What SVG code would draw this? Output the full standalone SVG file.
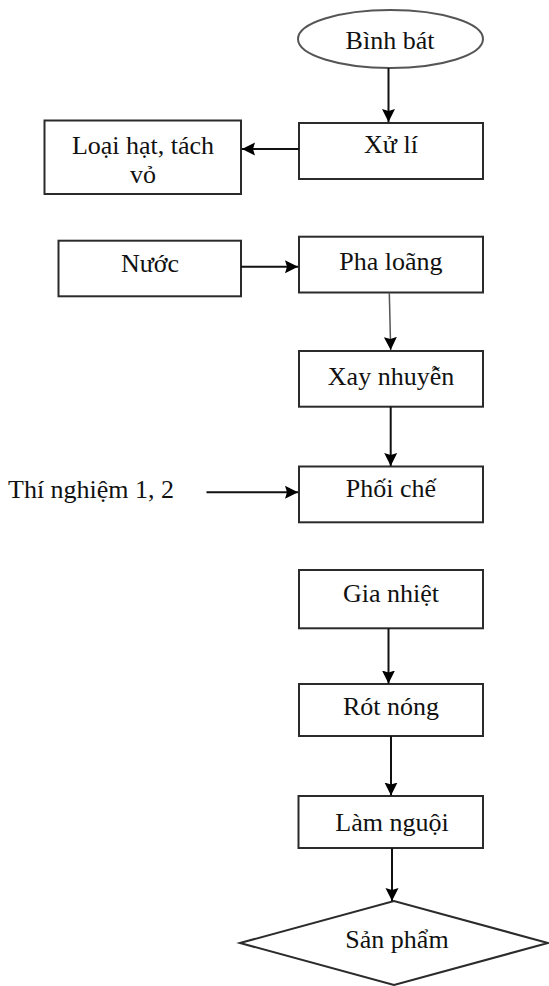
<svg xmlns="http://www.w3.org/2000/svg" width="549" height="986" viewBox="0 0 549 986">
<style>
.box{fill:#fff;stroke:#2b2b2b;stroke-width:2}
.oval{fill:#fff;stroke:#555;stroke-width:2}
.lbl{font-family:"Liberation Serif","Times New Roman",serif;font-size:26px;fill:#111;text-anchor:middle}
.lft{font-family:"Liberation Serif","Times New Roman",serif;font-size:26px;fill:#111}
.con{fill:none;stroke:#111;stroke-width:2}
.thin{fill:none;stroke:#555;stroke-width:1.5}
</style>
<defs>
<marker id="ah" markerUnits="userSpaceOnUse" markerWidth="15" markerHeight="15" refX="13" refY="7" orient="auto">
<path d="M0,0.5 L13,7 L0,13.5 L2,7 Z" fill="#000"/>
</marker>
</defs>
<g id="n-binhbat"><ellipse class="oval" cx="390.5" cy="39" rx="92.5" ry="29"/><text class="lbl" x="390" y="49">Bình bát</text></g>
<g id="n-xuli"><rect class="box" x="299" y="123" width="184" height="56"/><text class="lbl" x="391" y="153">Xử lí</text></g>
<g id="n-loaihat"><rect class="box" x="44.5" y="120.5" width="196.5" height="73.5"/><text class="lbl" x="143" y="154">Loại hạt, tách</text><text class="lbl" x="143" y="183">vỏ</text></g>
<g id="n-nuoc"><rect class="box" x="58.5" y="240.7" width="182.5" height="55.6"/><text class="lbl" x="150" y="271.7">Nước</text></g>
<g id="n-phaloang"><rect class="box" x="299" y="236.7" width="184" height="55.8"/><text class="lbl" x="391" y="270">Pha loãng</text></g>
<g id="n-xaynhuyen"><rect class="box" x="299" y="351" width="184" height="55.7"/><text class="lbl" x="391" y="385">Xay nhuyễn</text></g>
<g id="n-thinghiem"><text class="lft" x="8" y="498">Thí nghiệm 1, 2</text></g>
<g id="n-phoiche"><rect class="box" x="299" y="466.5" width="184" height="55.8"/><text class="lbl" x="391" y="497">Phối chế</text></g>
<g id="n-gianhiet"><rect class="box" x="299" y="570" width="184" height="58.3"/><text class="lbl" x="391" y="602">Gia nhiệt</text></g>
<g id="n-rotnong"><rect class="box" x="299" y="684" width="184" height="52"/><text class="lbl" x="391" y="715">Rót nóng</text></g>
<g id="n-lamnguoi"><rect class="box" x="298.5" y="796" width="184.5" height="52"/><text class="lbl" x="392" y="831">Làm nguội</text></g>
<g id="n-sanpham"><polygon class="box" points="240,943 394,901 548,943 394,985"/><text class="lbl" x="397" y="948">Sản phẩm</text></g>
<g id="connectors">
<line class="con" x1="388.5" y1="68" x2="388.5" y2="122" marker-end="url(#ah)"/>
<line class="con" x1="299" y1="149" x2="242" y2="149" marker-end="url(#ah)"/>
<line class="con" x1="241" y1="266.7" x2="298" y2="266.7" marker-end="url(#ah)"/>
<line class="thin" x1="389.3" y1="292.5" x2="390.7" y2="350" marker-end="url(#ah)"/>
<line class="con" x1="390.7" y1="406.7" x2="390.7" y2="466" marker-end="url(#ah)"/>
<line class="con" x1="206.5" y1="492.3" x2="298" y2="492.3" marker-end="url(#ah)"/>
<line class="con" x1="388.5" y1="628.3" x2="388.5" y2="683.5" marker-end="url(#ah)"/>
<line class="con" x1="391" y1="736" x2="391" y2="795.5" marker-end="url(#ah)"/>
<line class="con" x1="392" y1="848" x2="392" y2="901" marker-end="url(#ah)"/>
</g>
</svg>
